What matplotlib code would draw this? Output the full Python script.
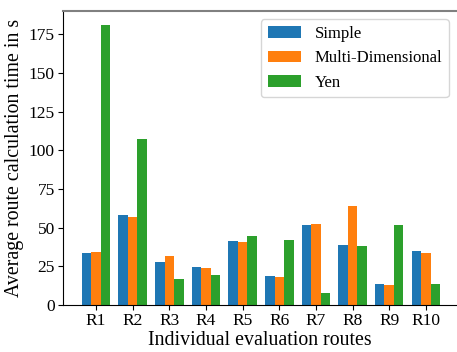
import numpy as np
import matplotlib
matplotlib.use("Agg")
import matplotlib.pyplot as plt

plt.rcParams["font.family"] = ["Liberation Serif", "DejaVu Serif"]

routes = ["R1", "R2", "R3", "R4", "R5", "R6", "R7", "R8", "R9", "R10"]
simple = [33.6, 58.1, 27.8, 24.5, 41.3, 18.7, 51.6, 38.7, 13.6, 34.9]
multi_dim = [34.2, 56.8, 31.6, 23.9, 40.7, 18.1, 52.3, 63.9, 12.9, 33.6]
yen = [180.8, 107.2, 16.8, 19.4, 44.5, 42.0, 7.7, 38.1, 51.6, 13.6]

x = np.arange(len(routes))
w = 0.26

fig = plt.figure(figsize=(4.57, 3.52), dpi=100)
ax = fig.add_axes([0.138, 0.1335, 0.862, 0.8355])

ax.bar(x - w, simple, w, color="#1f77b4", label="Simple")
ax.bar(x, multi_dim, w, color="#ff7f0e", label="Multi-Dimensional")
ax.bar(x + w, yen, w, color="#2ca02c", label="Yen")

ax.set_xticks(x)
ax.set_xticklabels(routes)
ax.set_yticks([0, 25, 50, 75, 100, 125, 150, 175])
ax.set_xlim(-0.9, 9.85)
ax.set_ylim(0, 190)
ax.tick_params(labelsize=12.5, pad=2.5)
ax.set_xlabel("Individual evaluation routes", fontsize=14.3, labelpad=1)
ax.set_ylabel("Average route calculation time in s", fontsize=14.3, labelpad=3)

ax.spines["right"].set_visible(False)
ax.spines["top"].set_color("#808080")
ax.spines["top"].set_linewidth(1.5)

ax.legend(fontsize=12, loc="upper right", fancybox=True, framealpha=0.8)

fig.savefig("out.png", dpi=100)
